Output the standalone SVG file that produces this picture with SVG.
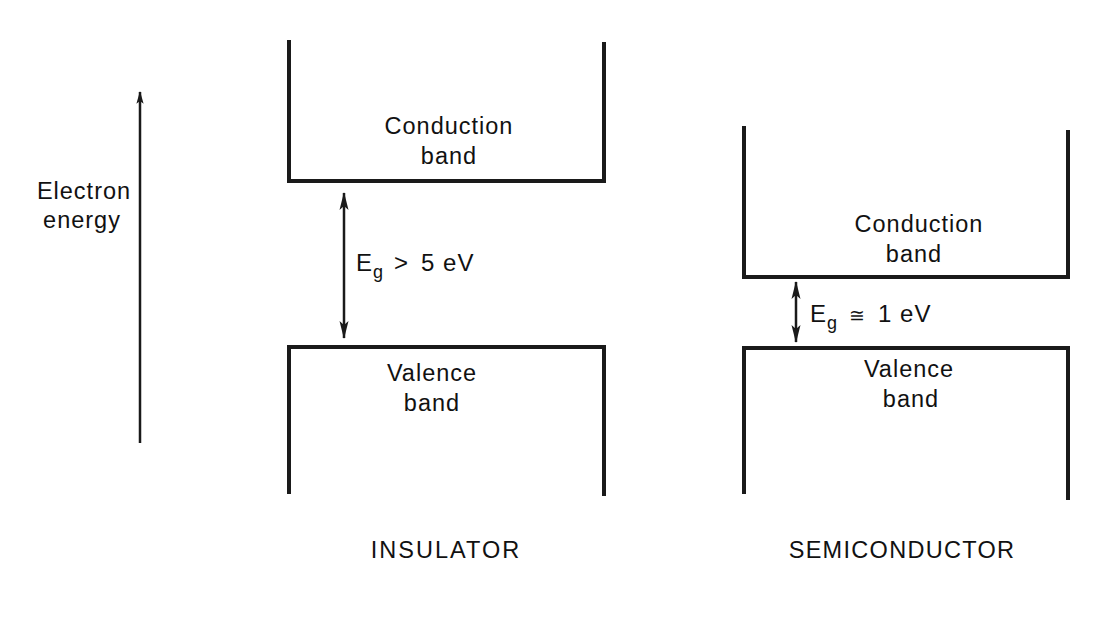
<svg xmlns="http://www.w3.org/2000/svg" width="1109" height="624" viewBox="0 0 1109 624">
<style>
.band{fill:none;stroke:#1a1a1a;stroke-width:4;stroke-linejoin:miter}
.arr{stroke:#1a1a1a;stroke-width:2.5;fill:none}
text{font-family:"Liberation Sans",Arial,sans-serif;font-size:23.5px;letter-spacing:1px;fill:#111;text-anchor:middle}
.ins{letter-spacing:2px}
.semi{letter-spacing:1.3px}
.lab{text-anchor:start;letter-spacing:1px;font-size:24px}
</style>
<defs>
<marker id="ah2" viewBox="0 0 18 10" refX="17" refY="5" markerWidth="18" markerHeight="10" orient="auto-start-reverse" markerUnits="userSpaceOnUse">
<path d="M0,0.5 L18,5 L0,9.5 L4,5 Z" fill="#1a1a1a"/>
</marker>
<marker id="ah3" viewBox="0 0 14 10" refX="13" refY="5" markerWidth="14" markerHeight="9" orient="auto-start-reverse" markerUnits="userSpaceOnUse">
<path d="M0,1 L14,5 L0,9 L3,5 Z" fill="#1a1a1a"/>
</marker>
</defs>
<rect width="1109" height="624" fill="#fff"/>
<g id="axis">
<line x1="140" y1="443" x2="140" y2="92" class="arr" stroke-width="3" marker-end="url(#ah3)"/>
<text x="84" y="199">Electron</text>
<text x="82" y="228">energy</text>
</g>
<g id="ins-conduction">
<path class="band" d="M289,40 V181 H604 V42"/>
<text x="449" y="134">Conduction</text>
<text x="449" y="164">band</text>
</g>
<g id="ins-valence">
<path class="band" d="M289,494 V347 H604 V496"/>
<text x="432" y="381">Valence</text>
<text x="432" y="411">band</text>
</g>
<g id="semi-conduction">
<path class="band" d="M744,126 V277 H1068 V130"/>
<text x="919" y="232">Conduction</text>
<text x="914" y="262">band</text>
</g>
<g id="semi-valence">
<path class="band" d="M744,494 V348 H1068 V500"/>
<text x="909" y="377">Valence</text>
<text x="911" y="407">band</text>
</g>
<g id="connectors">
<line x1="344" y1="193" x2="344" y2="338" class="arr" marker-start="url(#ah2)" marker-end="url(#ah2)"/>
<line x1="796" y1="282" x2="796" y2="342" class="arr" stroke-width="3" marker-start="url(#ah2)" marker-end="url(#ah2)"/>
</g>
<g id="labels">
<text class="lab" x="356" y="271">E<tspan font-size="18" dy="7">g</tspan><tspan dy="-7" dx="10">&gt;</tspan><tspan dx="12">5 eV</tspan></text>
<text class="lab" x="810" y="322">E<tspan font-size="18" dy="7">g</tspan><tspan dy="-7" dx="11" font-size="19">≅</tspan><tspan dx="12">1 eV</tspan></text>
<text class="ins" x="446" y="558">INSULATOR</text>
<text class="semi" x="902" y="558">SEMICONDUCTOR</text>
</g>
</svg>
